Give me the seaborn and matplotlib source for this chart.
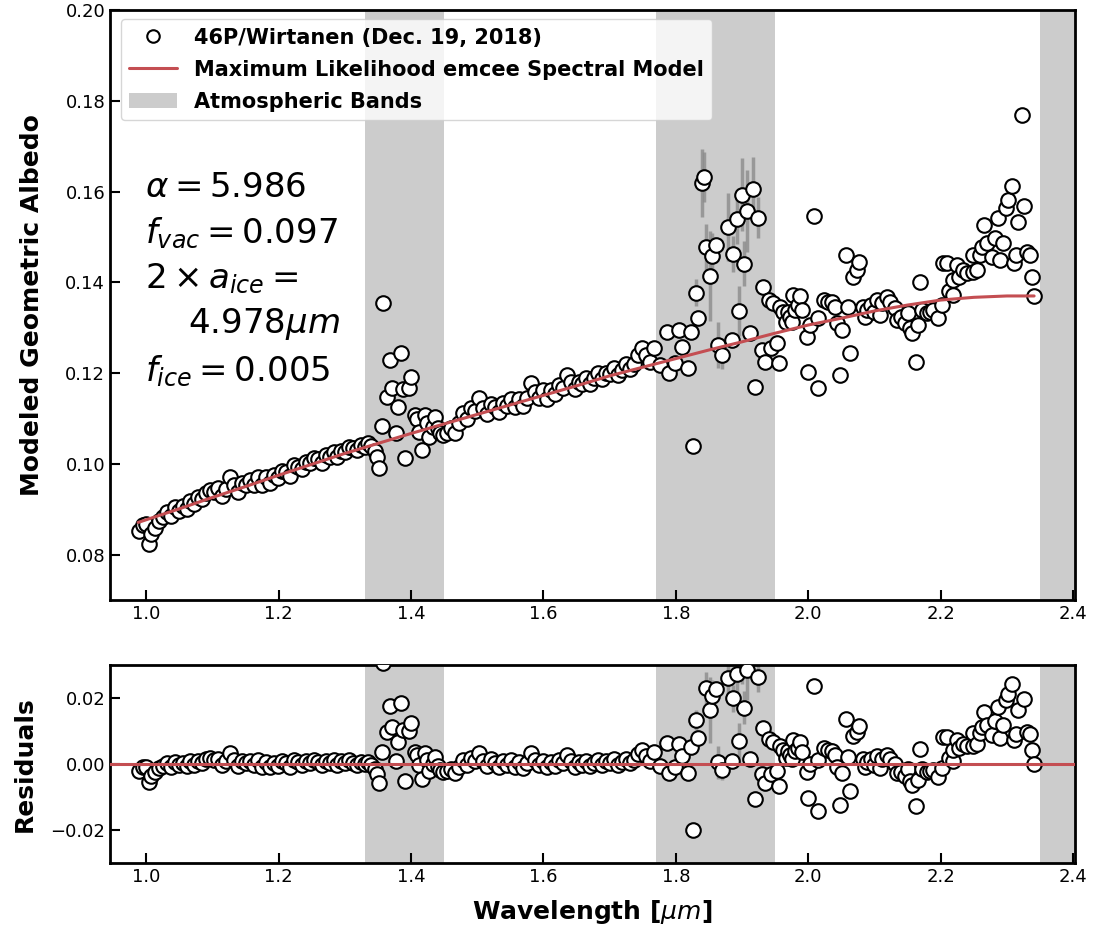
import numpy as np
import pandas as pd
import matplotlib
matplotlib.use("Agg")
import matplotlib.pyplot as plt
import seaborn as sns
from matplotlib.lines import Line2D
from matplotlib.patches import Patch

# --- spectrum (wavelength [um], albedo, residual) ---
# 1.00 - 1.33 um
wl_a = [0.990, 0.995, 1.000, 1.004, 1.008, 1.013, 1.019, 1.025, 1.031, 1.037,
        1.043, 1.049, 1.055, 1.061, 1.067, 1.073, 1.079, 1.085, 1.091, 1.097,
        1.103, 1.109, 1.115, 1.121, 1.127, 1.133, 1.139, 1.145, 1.151, 1.157,
        1.163, 1.169, 1.175, 1.181, 1.187, 1.193, 1.199, 1.205, 1.211, 1.217,
        1.223, 1.229, 1.235, 1.241, 1.247, 1.253, 1.259, 1.265, 1.271, 1.277,
        1.283, 1.289, 1.295, 1.301, 1.307, 1.313, 1.319, 1.325, 1.331]
alb_a = [0.0852, 0.0866, 0.0867, 0.0824, 0.0846, 0.0858, 0.0874, 0.0884, 0.0894, 0.0885,
         0.0904, 0.0897, 0.0907, 0.0901, 0.0918, 0.0911, 0.0926, 0.0922, 0.0935, 0.0942,
         0.0939, 0.0946, 0.0929, 0.0944, 0.0971, 0.0954, 0.0939, 0.0957, 0.0953, 0.0964,
         0.0953, 0.0972, 0.0954, 0.0971, 0.0958, 0.0975, 0.0968, 0.0985, 0.0982, 0.0974,
         0.0998, 0.0994, 0.0988, 0.1005, 0.1001, 0.1013, 0.1010, 0.1003, 0.1019, 0.1016,
         0.1027, 0.1016, 0.1029, 0.1027, 0.1038, 0.1034, 0.1031, 0.1042, 0.1038]
res_a = [-0.0020, -0.0008, -0.0010, -0.0055, -0.0035, -0.0025, -0.0012, -0.0005, 0.0002, -0.0010,
         0.0006, -0.0004, 0.0003, -0.0006, 0.0008, -0.0002, 0.0010, 0.0004, 0.0014, 0.0018,
         0.0012, 0.0016, -0.0004, 0.0008, 0.0032, 0.0012, -0.0006, 0.0009, 0.0002, 0.0010,
         -0.0004, 0.0012, -0.0008, 0.0006, -0.0010, 0.0004, -0.0006, 0.0008, 0.0002, -0.0009,
         0.0012, 0.0005, -0.0004, 0.0010, 0.0003, 0.0012, 0.0006, -0.0003, 0.0010, 0.0004,
         0.0012, -0.0002, 0.0008, 0.0003, 0.0011, 0.0004, -0.0002, 0.0006, -0.0001]

# 1.33 - 1.45 um (first atmospheric band)
wl_b = [1.335, 1.340, 1.345, 1.349, 1.352, 1.356, 1.358, 1.364, 1.369, 1.372,
        1.378, 1.381, 1.385, 1.388, 1.391, 1.397, 1.400, 1.406, 1.409, 1.412,
        1.417, 1.421, 1.424, 1.427, 1.433, 1.437, 1.441, 1.444, 1.449]
alb_b = [0.1046, 0.1040, 0.1028, 0.1015, 0.0991, 0.1084, 0.1355, 0.1148, 0.1229, 0.1167,
         0.1068, 0.1126, 0.1245, 0.1165, 0.1013, 0.1167, 0.1192, 0.1108, 0.1098, 0.1070,
         0.1031, 0.1108, 0.1090, 0.1059, 0.1082, 0.1104, 0.1079, 0.1068, 0.1064]
res_b = [0.0005, -0.0003, -0.0016, -0.0031, -0.0056, 0.0035, 0.0305, 0.0096, 0.0175, 0.0111,
         0.0010, 0.0066, 0.0184, 0.0102, -0.0051, 0.0101, 0.0124, 0.0038, 0.0027, -0.0003,
         -0.0044, 0.0032, 0.0013, -0.0020, 0.0001, 0.0021, -0.0006, -0.0018, -0.0024]

# 1.45 - 1.77 um
wl_c = [1.455, 1.461, 1.467, 1.473, 1.479, 1.485, 1.491, 1.497, 1.503, 1.509,
        1.515, 1.521, 1.527, 1.533, 1.539, 1.545, 1.551, 1.557, 1.563, 1.569,
        1.575, 1.581, 1.587, 1.593, 1.599, 1.605, 1.611, 1.617, 1.623, 1.629,
        1.635, 1.641, 1.647, 1.653, 1.659, 1.665, 1.671, 1.677, 1.683, 1.689,
        1.695, 1.701, 1.707, 1.713, 1.719, 1.725, 1.731, 1.737, 1.743, 1.749,
        1.755, 1.761, 1.767]
alb_c = [0.1068, 0.1078, 0.1067, 0.1090, 0.1112, 0.1099, 0.1124, 0.1116, 0.1145, 0.1123,
         0.1110, 0.1132, 0.1125, 0.1114, 0.1134, 0.1127, 0.1143, 0.1126, 0.1142, 0.1127,
         0.1146, 0.1178, 0.1159, 0.1145, 0.1162, 0.1144, 0.1163, 0.1153, 0.1174, 0.1167,
         0.1195, 0.1180, 0.1164, 0.1181, 0.1175, 0.1190, 0.1177, 0.1189, 0.1200, 0.1186,
         0.1200, 0.1197, 0.1211, 0.1195, 0.1207, 0.1220, 0.1208, 0.1220, 0.1240, 0.1255,
         0.1239, 0.1225, 0.1255]
res_c = [-0.0022, -0.0015, -0.0028, -0.0008, 0.0012, -0.0004, 0.0018, 0.0008, 0.0034, 0.0010,
         -0.0006, 0.0014, 0.0004, -0.0010, 0.0008, -0.0002, 0.0012, -0.0008, 0.0006, -0.0012,
         0.0004, 0.0034, 0.0012, -0.0004, 0.0010, -0.0010, 0.0006, -0.0006, 0.0012, 0.0002,
         0.0028, 0.0010, -0.0008, 0.0006, -0.0002, 0.0010, -0.0006, 0.0004, 0.0012, -0.0004,
         0.0008, 0.0002, 0.0014, -0.0004, 0.0006, 0.0016, 0.0002, 0.0012, 0.0030, 0.0042,
         0.0024, 0.0008, 0.0036]

# 1.77 - 1.95 um (second atmospheric band)
wl_d = [1.776, 1.787, 1.789, 1.799, 1.804, 1.810, 1.819, 1.823, 1.826, 1.831,
        1.834, 1.840, 1.843, 1.846, 1.852, 1.855, 1.860, 1.864, 1.869, 1.879,
        1.885, 1.887, 1.893, 1.896, 1.900, 1.903, 1.907, 1.912, 1.916, 1.920,
        1.924, 1.930, 1.932, 1.935, 1.940, 1.943, 1.947]
alb_d = [0.1218, 0.1291, 0.1200, 0.1222, 0.1295, 0.1258, 0.1211, 0.1291, 0.1040, 0.1377,
         0.1322, 0.1619, 0.1632, 0.1478, 0.1414, 0.1458, 0.1482, 0.1262, 0.1240, 0.1522,
         0.1273, 0.1463, 0.1540, 0.1337, 0.1593, 0.1441, 0.1557, 0.1289, 0.1606, 0.1170,
         0.1542, 0.1251, 0.1390, 0.1225, 0.1361, 0.1256, 0.1355]
res_d = [-0.0005, 0.0064, -0.0028, -0.0009, 0.0062, 0.0023, -0.0028, 0.0051, -0.0201, 0.0134,
         0.0078, 0.0372, 0.0384, 0.0229, 0.0163, 0.0206, 0.0228, 0.0006, -0.0017, 0.0261,
         0.0010, 0.0199, 0.0274, 0.0069, 0.0324, 0.0171, 0.0285, 0.0015, 0.0331, -0.0107,
         0.0264, -0.0029, 0.0109, -0.0057, 0.0077, -0.0029, 0.0068]

# 1.95 - 2.34 um
wl_e = [1.953, 1.956, 1.958, 1.962, 1.966, 1.970, 1.973, 1.975, 1.977, 1.980,
        1.984, 1.988, 1.991, 1.998, 2.000, 2.003, 2.008, 2.014, 2.015, 2.023,
        2.029, 2.036, 2.041, 2.044, 2.048, 2.051, 2.057, 2.060, 2.063, 2.068,
        2.074, 2.077, 2.082, 2.086, 2.089, 2.094, 2.099, 2.104, 2.108, 2.112,
        2.119, 2.124, 2.131, 2.134, 2.140, 2.146, 2.150, 2.154, 2.157, 2.162,
        2.165, 2.169, 2.172, 2.180, 2.184, 2.189, 2.196, 2.202, 2.204, 2.210,
        2.213, 2.218, 2.219, 2.225, 2.227, 2.233, 2.240, 2.248, 2.249, 2.255,
        2.260, 2.263, 2.266, 2.270, 2.278, 2.282, 2.286, 2.290, 2.294, 2.298,
        2.302, 2.307, 2.310, 2.313, 2.317, 2.323, 2.326, 2.331, 2.335, 2.338,
        2.341]
alb_e = [0.1267, 0.1222, 0.1346, 0.1335, 0.1313, 0.1335, 0.1324, 0.1313, 0.1372, 0.1339,
         0.1350, 0.1370, 0.1339, 0.1280, 0.1203, 0.1306, 0.1546, 0.1167, 0.1322, 0.1361,
         0.1357, 0.1357, 0.1346, 0.1311, 0.1196, 0.1295, 0.1460, 0.1346, 0.1244, 0.1412,
         0.1427, 0.1445, 0.1346, 0.1324, 0.1339, 0.1350, 0.1335, 0.1361, 0.1328, 0.1354,
         0.1368, 0.1357, 0.1344, 0.1317, 0.1324, 0.1311, 0.1333, 0.1300, 0.1289, 0.1225,
         0.1306, 0.1401, 0.1339, 0.1333, 0.1335, 0.1339, 0.1322, 0.1350, 0.1443, 0.1443,
         0.1380, 0.1372, 0.1405, 0.1438, 0.1412, 0.1427, 0.1421, 0.1423, 0.1460, 0.1427,
         0.1460, 0.1478, 0.1526, 0.1487, 0.1456, 0.1498, 0.1542, 0.1449, 0.1487, 0.1564,
         0.1581, 0.1612, 0.1443, 0.1460, 0.1533, 0.1769, 0.1568, 0.1467, 0.1460, 0.1412,
         0.1370]
res_e = [-0.0022, -0.0068, 0.0055, 0.0043, 0.0019, 0.0040, 0.0028, 0.0016, 0.0074, 0.0040,
         0.0050, 0.0068, 0.0036, -0.0025, -0.0103, -0.0001, 0.0238, -0.0143, 0.0011, 0.0048,
         0.0042, 0.0040, 0.0027, -0.0009, -0.0125, -0.0027, 0.0136, 0.0021, -0.0082, 0.0085,
         0.0098, 0.0115, 0.0015, -0.0009, 0.0005, 0.0015, -0.0002, 0.0023, -0.0011, 0.0014,
         0.0026, 0.0014, 0.0000, -0.0028, -0.0023, -0.0037, -0.0016, -0.0050, -0.0062, -0.0127,
         -0.0047, 0.0047, -0.0015, -0.0023, -0.0022, -0.0019, -0.0038, -0.0011, 0.0082, 0.0081,
         0.0017, 0.0009, 0.0042, 0.0074, 0.0048, 0.0062, 0.0055, 0.0056, 0.0093, 0.0060,
         0.0093, 0.0111, 0.0158, 0.0119, 0.0088, 0.0130, 0.0173, 0.0080, 0.0118, 0.0195,
         0.0212, 0.0243, 0.0074, 0.0091, 0.0163, 0.0399, 0.0198, 0.0097, 0.0090, 0.0042,
         0.0000]

# error bars (only the large ones inside the 1.9 um band are visible)
err_wl = [1.831, 1.840, 1.843, 1.846, 1.852, 1.855, 1.864, 1.869, 1.879, 1.887,
          1.893, 1.896, 1.900, 1.903, 1.907, 1.916, 1.924]
err_size = [0.0030, 0.0075, 0.0055, 0.0050, 0.0100, 0.0050, 0.0050, 0.0030, 0.0075, 0.0040,
            0.0055, 0.0055, 0.0080, 0.0050, 0.0090, 0.0070, 0.0045]

# maximum likelihood model curve
model_wl = [0.988, 1.05, 1.10, 1.15, 1.20, 1.25, 1.30, 1.35, 1.40, 1.45,
            1.50, 1.55, 1.60, 1.65, 1.70, 1.75, 1.80, 1.85, 1.90, 1.95,
            2.00, 2.05, 2.10, 2.15, 2.20, 2.25, 2.30, 2.341]
model_alb = [0.0871, 0.0901, 0.0926, 0.0950, 0.0975, 0.0999, 0.1023, 0.1045, 0.1067, 0.1088,
             0.1109, 0.1130, 0.1151, 0.1172, 0.1194, 0.1213, 0.1232, 0.1251, 0.1269, 0.1288,
             0.1306, 0.1321, 0.1337, 0.1350, 0.1361, 0.1367, 0.1370, 0.1370]

# telluric bands
band_lo = [1.33, 1.77, 2.35]
band_hi = [1.45, 1.95, 2.42]

df = pd.DataFrame({
    "wavelength": wl_a + wl_b + wl_c + wl_d + wl_e,
    "albedo": alb_a + alb_b + alb_c + alb_d + alb_e,
    "residual": res_a + res_b + res_c + res_d + res_e,
})
err = pd.DataFrame({"wavelength": err_wl, "yerr": err_size}).merge(df, on="wavelength")
model = pd.DataFrame({"wavelength": model_wl, "albedo": model_alb})

sns.set_style("ticks")
plt.rcParams["font.family"] = ["DejaVu Sans"]
plt.rcParams["mathtext.fontset"] = "dejavusans"
for key in ["text.color", "axes.labelcolor", "xtick.color", "ytick.color", "axes.edgecolor"]:
    plt.rcParams[key] = "black"

fig = plt.figure(figsize=(10.98, 9.30), dpi=100)
ax = fig.add_axes([0.1002, 0.3548, 0.8790, 0.6344])
axr = fig.add_axes([0.1002, 0.0720, 0.8790, 0.2129])

red = "#C44E52"
band_col = "#cccccc"

for a in (ax, axr):
    for lo, hi in zip(band_lo, band_hi):
        a.axvspan(lo, hi, color=band_col, lw=0, zorder=0)

# top panel
ax.errorbar(err["wavelength"], err["albedo"], yerr=err["yerr"], fmt="none",
            ecolor="#8c8c8c", elinewidth=2.5, alpha=0.8, zorder=2)
sns.scatterplot(data=df, x="wavelength", y="albedo", ax=ax, color="white",
                edgecolor="black", s=110, linewidth=1.5, zorder=3, legend=False)
sns.lineplot(data=model, x="wavelength", y="albedo", ax=ax, color=red, lw=2.2,
             zorder=4, sort=True)

# residual panel
axr.errorbar(err["wavelength"], err["residual"], yerr=err["yerr"], fmt="none",
             ecolor="#8c8c8c", elinewidth=2.5, alpha=0.8, zorder=2)
sns.scatterplot(data=df, x="wavelength", y="residual", ax=axr, color="white",
                edgecolor="black", s=110, linewidth=1.5, zorder=3, legend=False)
axr.axhline(0, color=red, lw=2.2, zorder=4)

for a in (ax, axr):
    a.set_xlim(0.9455, 2.403)
    a.set_xticks([1.0, 1.2, 1.4, 1.6, 1.8, 2.0, 2.2, 2.4])
    a.tick_params(direction="in", length=7, width=1.5, labelsize=13)
    for s in a.spines.values():
        s.set_linewidth(2)
        s.set_color("black")

ax.set_ylim(0.07, 0.20)
ax.set_yticks([0.08, 0.10, 0.12, 0.14, 0.16, 0.18, 0.20])
ax.set_xlabel("")
ax.set_ylabel("Modeled Geometric Albedo", fontsize=18, fontweight="bold", labelpad=15)

axr.set_ylim(-0.03, 0.03)
axr.set_yticks([-0.02, 0.00, 0.02])
axr.set_ylabel("Residuals", fontsize=18, fontweight="bold", labelpad=10)
axr.set_xlabel(r"Wavelength [$\mu m$]", fontsize=18, fontweight="bold", labelpad=9)

params = (r"$\alpha = 5.986$" + "\n" + r"$f_{vac} = 0.097$" + "\n" +
          r"$2 \times a_{ice} =$" + "\n" + r"    $4.978 \mu m$" + "\n" +
          r"$f_{ice} = 0.005$")
ax.text(0.036, 0.727, params, transform=ax.transAxes, fontsize=24.5,
        va="top", ha="left", linespacing=1.39)

handles = [
    Line2D([], [], marker="o", ls="none", mfc="white", mec="black", ms=9, mew=1.5),
    Line2D([], [], color=red, lw=2.2),
    Patch(facecolor=band_col, edgecolor="none"),
]
labels = ["46P/Wirtanen (Dec. 19, 2018)",
          "Maximum Likelihood emcee Spectral Model",
          "Atmospheric Bands"]
ax.legend(handles, labels, loc="upper left", prop={"weight": "bold", "size": 15},
          bbox_to_anchor=(0.005, 0.995), borderaxespad=0.3, labelspacing=0.58,
          handlelength=2.3)

fig.savefig("out.png", dpi=100)
